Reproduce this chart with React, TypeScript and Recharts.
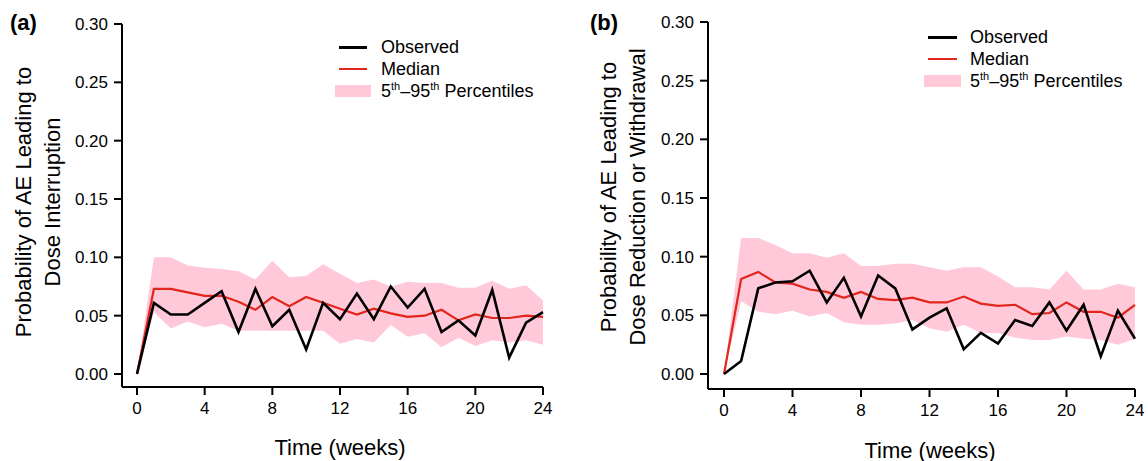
import { Area, ComposedChart, Label, Line, XAxis, YAxis } from "recharts";

const weeks = [0, 1, 2, 3, 4, 5, 6, 7, 8, 9, 10, 11, 12, 13, 14, 15, 16, 17, 18, 19, 20, 21, 22, 23, 24];
const xTicks = [0, 4, 8, 12, 16, 20, 24];
const yTicks = [0, 0.05, 0.1, 0.15, 0.2, 0.25, 0.3];

// (a) dose interruption
const observedA = [0.0, 0.061, 0.051, 0.051, 0.061, 0.071, 0.036, 0.073, 0.041, 0.055, 0.021, 0.061, 0.047, 0.069, 0.047, 0.075, 0.057, 0.073, 0.036, 0.046, 0.033, 0.072, 0.014, 0.044, 0.053];
const medianA = [0.0, 0.073, 0.073, 0.07, 0.067, 0.067, 0.062, 0.055, 0.066, 0.058, 0.066, 0.061, 0.056, 0.051, 0.056, 0.052, 0.049, 0.05, 0.055, 0.046, 0.051, 0.048, 0.048, 0.05, 0.049];
const lowerA = [0.0, 0.053, 0.039, 0.045, 0.04, 0.043, 0.037, 0.037, 0.037, 0.037, 0.037, 0.037, 0.026, 0.03, 0.027, 0.042, 0.032, 0.035, 0.023, 0.031, 0.024, 0.029, 0.027, 0.029, 0.025];
const upperA = [0.0, 0.1, 0.1, 0.093, 0.091, 0.09, 0.088, 0.081, 0.097, 0.083, 0.084, 0.094, 0.086, 0.078, 0.081, 0.075, 0.079, 0.078, 0.078, 0.074, 0.074, 0.08, 0.073, 0.076, 0.063];

// (b) dose reduction or withdrawal
const observedB = [0.0, 0.011, 0.073, 0.078, 0.079, 0.088, 0.061, 0.082, 0.049, 0.084, 0.073, 0.038, 0.048, 0.056, 0.021, 0.035, 0.026, 0.046, 0.041, 0.061, 0.037, 0.059, 0.015, 0.054, 0.03];
const medianB = [0.0, 0.081, 0.087, 0.078, 0.077, 0.072, 0.07, 0.065, 0.07, 0.064, 0.063, 0.065, 0.061, 0.061, 0.066, 0.06, 0.058, 0.059, 0.051, 0.052, 0.061, 0.053, 0.053, 0.048, 0.059];
const lowerB = [0.0, 0.062, 0.053, 0.051, 0.054, 0.049, 0.052, 0.044, 0.042, 0.042, 0.043, 0.046, 0.039, 0.036, 0.042, 0.035, 0.035, 0.031, 0.029, 0.029, 0.032, 0.03, 0.029, 0.025, 0.03];
const upperB = [0.0, 0.116, 0.116, 0.11, 0.103, 0.103, 0.099, 0.103, 0.092, 0.092, 0.094, 0.094, 0.091, 0.088, 0.091, 0.091, 0.083, 0.074, 0.074, 0.072, 0.088, 0.072, 0.072, 0.077, 0.074];

const FONT = 'Arial, "Liberation Sans", Helvetica, sans-serif';
const RED = "#e3261c";
const PINK = "#ffc9d9";

type Row = { week: number; observed: number; median: number; band: [number, number] };

function buildRows(obs: number[], med: number[], lo: number[], hi: number[]): Row[] {
  return weeks.map((w, i) => ({ week: w, observed: obs[i], median: med[i], band: [lo[i], hi[i]] }));
}

function LegendBox({ rectWidth, gap }: { rectWidth: number; gap: number }) {
  const row = { display: "flex", alignItems: "center", height: 22 } as const;
  const cell = { width: rectWidth, display: "flex", justifyContent: "center", marginRight: gap } as const;
  return (
    <div style={{ fontFamily: FONT, fontSize: 18, color: "#000", lineHeight: "22px" }}>
      <div style={row}>
        <div style={cell}>
          <div style={{ width: rectWidth - 8, height: 3, background: "#000" }} />
        </div>
        <span>Observed</span>
      </div>
      <div style={row}>
        <div style={cell}>
          <div style={{ width: rectWidth - 8, height: 2.5, background: RED }} />
        </div>
        <span>Median</span>
      </div>
      <div style={row}>
        <div style={cell}>
          <div style={{ width: rectWidth, height: 12, background: PINK }} />
        </div>
        <span>
          5<sup style={{ fontSize: 11, lineHeight: 0 }}>th</sup>–95
          <sup style={{ fontSize: 11, lineHeight: 0 }}>th</sup> Percentiles
        </span>
      </div>
    </div>
  );
}

type PanelProps = {
  rows: Row[];
  left: number;
  width: number;
  margin: { top: number; right: number; bottom: number; left: number };
  padX: number;
  padY: number;
  tag: string;
  tagX: number;
  titleLines: string[];
  titleX: number[];
  titleY: number;
  xTitleX: number;
  xTitleY: number;
  legendLeft: number;
  legendTop: number;
  legendRect: number;
  legendGap: number;
};

function Panel(p: PanelProps) {
  const axisStyle = { stroke: "#000", strokeWidth: 2 };
  return (
    <div style={{ position: "absolute", left: p.left, top: 0, width: p.width, height: 461 }}>
      <div style={{ position: "absolute", left: p.tagX, top: 10, fontFamily: FONT, fontWeight: 700, fontSize: 22, lineHeight: "26px", zIndex: 2 }}>
        {p.tag}
      </div>
      <div style={{ position: "absolute", left: p.legendLeft, top: p.legendTop, zIndex: 2 }}>
        <LegendBox rectWidth={p.legendRect} gap={p.legendGap} />
      </div>
      <ComposedChart width={p.width} height={461} data={p.rows} margin={p.margin}>
        <XAxis
          dataKey="week"
          type="number"
          domain={[0, 24]}
          ticks={xTicks}
          interval={0}
          height={30}
          padding={{ left: p.padX, right: 0 }}
          axisLine={axisStyle}
          tickLine={axisStyle}
          tickSize={8}
          tickMargin={7}
          tick={{ fill: "#000", fontSize: 17, fontFamily: FONT }}
        >
          <Label
            content={() => (
              <text x={p.xTitleX} y={p.xTitleY} textAnchor="middle" dominantBaseline="central" fontSize={22} fontFamily={FONT} fill="#000">
                Time (weeks)
              </text>
            )}
          />
        </XAxis>
        <YAxis
          type="number"
          domain={[0, 0.3]}
          ticks={yTicks}
          interval={0}
          width={60}
          padding={{ top: 0, bottom: p.padY }}
          axisLine={axisStyle}
          tickLine={axisStyle}
          tickSize={8}
          tickMargin={6}
          tickFormatter={(v) => Number(v).toFixed(2)}
          tick={{ fill: "#000", fontSize: 17, fontFamily: FONT }}
        >
          <Label
            content={() => (
              <g>
                {p.titleLines.map((line, i) => (
                  <text
                    key={line}
                    transform={`translate(${p.titleX[i]},${p.titleY}) rotate(-90)`}
                    textAnchor="middle"
                    dominantBaseline="central"
                    fontSize={22}
                    fontFamily={FONT}
                    fill="#000"
                  >
                    {line}
                  </text>
                ))}
              </g>
            )}
          />
        </YAxis>
        <Area
          type="linear"
          dataKey="band"
          name="5th–95th Percentiles"
          fill={PINK}
          fillOpacity={1}
          stroke="none"
          isAnimationActive={false}
          activeDot={false}
        />
        <Line type="linear" dataKey="median" name="Median" stroke={RED} strokeWidth={2.2} dot={false} isAnimationActive={false} />
        <Line type="linear" dataKey="observed" name="Observed" stroke="#000" strokeWidth={2.6} dot={false} isAnimationActive={false} />
      </ComposedChart>
    </div>
  );
}

export default function App() {
  const rowsA = buildRows(observedA, medianA, lowerA, upperA);
  const rowsB = buildRows(observedB, medianB, lowerB, upperB);
  return (
    <div style={{ position: "absolute", left: 0, top: 0, width: 1148, height: 461, background: "#fff", overflow: "hidden" }}>
      <Panel
        rows={rowsA}
        left={0}
        width={560}
        margin={{ top: 24, right: 17, bottom: 44, left: 62 }}
        padX={15}
        padY={13}
        tag="(a)"
        tagX={10}
        titleLines={["Probability of AE Leading to", "Dose Interruption"]}
        titleX={[23, 52]}
        titleY={202}
        xTitleX={340}
        xTitleY={447}
        legendLeft={335}
        legendTop={36}
        legendRect={36}
        legendGap={10}
      />
      <Panel
        rows={rowsB}
        left={580}
        width={568}
        margin={{ top: 22, right: 13, bottom: 42, left: 68 }}
        padX={16}
        padY={15}
        tag="(b)"
        tagX={10}
        titleLines={["Probability of AE Leading to", "Dose Reduction or Withdrawal"]}
        titleX={[28, 57]}
        titleY={197}
        xTitleX={350}
        xTitleY={450}
        legendLeft={344}
        legendTop={26}
        legendRect={37}
        legendGap={9}
      />
    </div>
  );
}
